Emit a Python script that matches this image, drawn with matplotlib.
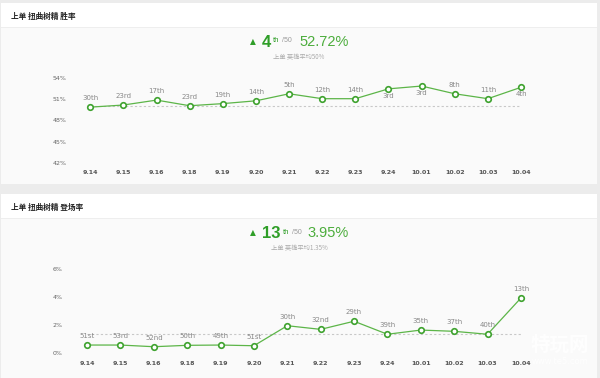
import matplotlib
matplotlib.use("Agg")
from matplotlib import pyplot as plt
from matplotlib.patches import Rectangle

plt.rcParams['font.family'] = ['Noto Sans CJK SC', 'DejaVu Sans']

patches = ['9.14', '9.15', '9.16', '9.18', '9.19', '9.20', '9.21',
           '9.22', '9.23', '9.24', '10.01', '10.02', '10.03', '10.04']

win_rate = [49.9, 50.2, 50.9, 50.1, 50.4, 50.8, 51.8,
            51.1, 51.1, 52.5, 52.9, 51.8, 51.1, 52.72]
win_rank = ['30th', '23rd', '17th', '23rd', '19th', '14th', '5th',
            '12th', '14th', '3rd', '3rd', '8th', '11th', '4th']
win_avg = 50

pick_rate = [0.59, 0.59, 0.47, 0.57, 0.59, 0.54, 1.97,
             1.71, 2.29, 1.36, 1.66, 1.57, 1.36, 3.95]
pick_rank = ['51st', '53rd', '52nd', '50th', '49th', '51st', '30th',
             '32nd', '29th', '39th', '35th', '37th', '40th', '13th']
pick_avg = 1.35

W, H = 600, 378
fig = plt.figure(figsize=(W / 100, H / 100), dpi=100)
fig.patch.set_facecolor('#ececec')

GREEN = '#5cb548'
DARK_GREEN = '#2f9e28'
NUM_FONT = ['Liberation Sans', 'DejaVu Sans']


def box(x0, y0, x1, y1, color):
    # pixel coords, origin top-left
    fig.patches.append(Rectangle((x0 / W, 1 - y1 / H), (x1 - x0) / W, (y1 - y0) / H,
                                 transform=fig.transFigure, facecolor=color,
                                 edgecolor='none', zorder=-5))


def ftext(x, y, s, **kw):
    fig.text(x / W, 1 - y / H, s, **kw)


def card(top, bottom, title, rank, pct, avg_text):
    box(1, top, 597, bottom, '#fafafa')
    box(1, top, 597, top + 24, '#ffffff')
    box(1, top + 24, 597, top + 25, '#eeeeee')
    ftext(11, top + 13, title, fontsize=5.5, fontweight='bold', color='#222222', va='center')
    ftext(253, top + 39, '▲', fontsize=5.5, color=DARK_GREEN, ha='center', va='center',
          family='DejaVu Sans')
    ftext(262, top + 39.5, rank, fontsize=12, fontweight='bold', color=DARK_GREEN,
          va='center', family=NUM_FONT)
    xr = 264 + 9.3 * len(rank)
    ftext(xr, top + 38, 'th', fontsize=5.5, color=DARK_GREEN, va='center', family=NUM_FONT)
    ftext(xr + 9, top + 38, '/50', fontsize=5, color='#999999', va='center', family=NUM_FONT)
    ftext(349, top + 39.5, pct, fontsize=10.5, color='#4cad3c', ha='right', va='center',
          family=NUM_FONT)
    ftext(299, top + 54, avg_text, fontsize=4.5, color='#aaaaaa', ha='center', va='center')


def chart(px_left, px_right, px_top, px_bottom, values, ranks, avg, ylim, yticks, below=()):
    ax = fig.add_axes([px_left / W, 1 - px_bottom / H,
                       (px_right - px_left) / W, (px_bottom - px_top) / H])
    ax.set_facecolor('none')
    x = list(range(len(values)))
    ax.plot([x[0], x[-1]], [avg, avg], color='#c8c8c8', lw=0.8, ls=(0, (2, 2)), zorder=1)
    ax.plot(x, values, color=GREEN, lw=0.9, zorder=2)
    ax.plot(x, values, 'o', ms=4, mfc='white', mec='#3ea22e', mew=1.2, zorder=3)
    for i, (v, r) in enumerate(zip(values, ranks)):
        dy = -5 if i in below else 6.5
        ax.annotate(r, (i, v), xytext=(0, dy), textcoords='offset points',
                    ha='center', va='center', fontsize=5, color='#888888',
                    family='DejaVu Sans')
    ax.set_xlim(-0.6, 13.7)
    ax.set_ylim(*ylim)
    ax.set_yticks(yticks)
    ax.set_yticklabels([f'{t}%' for t in yticks], fontsize=4.5, color='#666666',
                       family='DejaVu Sans')
    ax.set_xticks(x)
    ax.set_xticklabels(patches, fontsize=4.5, color='#555555', fontweight='bold',
                       family='DejaVu Sans')
    ax.tick_params(length=0)
    ax.tick_params(axis='y', pad=3)
    ax.tick_params(axis='x', pad=5.5)
    for s in ax.spines.values():
        s.set_visible(False)
    return ax


card(3, 184, '上单 扭曲树精 胜率', '4', '52.72%', '上单 英雄平均50%')
card(194, 378, '上单 扭曲树精 登场率', '13', '3.95%', '上单 英雄平均1.35%')

chart(70.4, 544.2, 78.3, 162.7, win_rate, win_rank, win_avg,
      (42, 54), [42, 45, 48, 51, 54], below=(9, 10, 13))
chart(67, 544.3, 269.3, 353.3, pick_rate, pick_rank, pick_avg,
      (0, 6), [0, 2, 4, 6])

# watermark
ftext(560, 345, '特玩网', fontsize=14, color='white', alpha=0.85, ha='center',
      va='center', fontweight='bold')
ftext(560, 362, 'www.te5.com', fontsize=6, color='white', alpha=0.85, ha='center',
      va='center', family='DejaVu Sans')

fig.savefig('out.png', dpi=100, facecolor=fig.get_facecolor())
